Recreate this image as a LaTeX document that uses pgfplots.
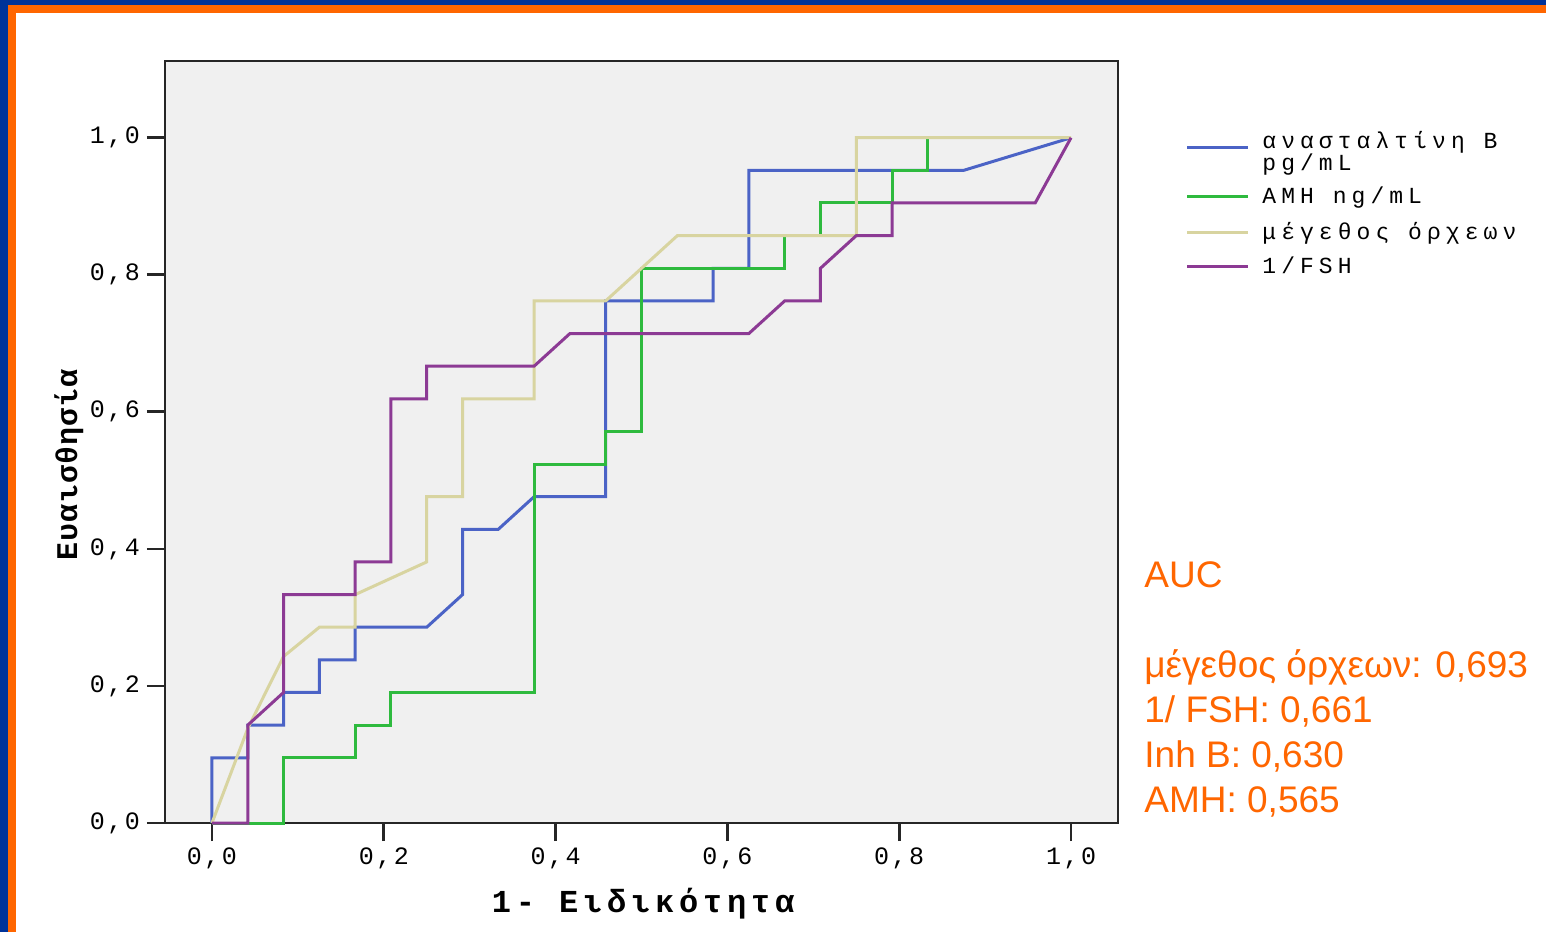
\documentclass[border=0pt]{standalone}
\usepackage{fontspec}
\setmainfont{Liberation Sans}
\newfontfamily\monotick[LetterSpace=10]{Liberation Mono}
\newfontfamily\monolab[LetterSpace=15]{Liberation Mono}
\newfontfamily\monoylab[LetterSpace=4]{Liberation Mono}
\newfontfamily\monoleg[LetterSpace=22]{Liberation Mono}
\usepackage{pgfplots}
\pgfplotsset{compat=1.18}
\definecolor{frameblue}{HTML}{003399}
\definecolor{frameorange}{HTML}{FF6600}
\definecolor{plotbg}{HTML}{F0F0F0}
\definecolor{rocblue}{HTML}{4B63C6}
\definecolor{rocgreen}{HTML}{2EBA3E}
\definecolor{rocbeige}{HTML}{D8D4A0}
\definecolor{rocpurple}{HTML}{8C3A94}

\begin{document}
\begin{tikzpicture}[x=0.5pt,y=0.5pt]
\useasboundingbox (0,0) rectangle (1546,932);
\fill[frameblue] (0,0) rectangle (1546,932);
\fill[frameorange] (8,0) rectangle (1546,927);
\fill[white] (16,0) rectangle (1546,919);

\begin{axis}[
  at={(82.5pt,54.5pt)}, anchor=south west,
  scale only axis, width=476.5pt, height=381pt,
  xmin=-0.0547, xmax=1.0547, ymin=0, ymax=1.112,
  axis background/.style={fill=plotbg},
  axis line style={line width=1.4pt, black!85},
  xtick={0,0.2,0.4,0.6,0.8,1}, ytick={0,0.2,0.4,0.6,0.8,1},
  xtick pos=bottom, ytick pos=left,
  tick align=outside, major tick length=9pt,
  tick style={line width=1.4pt, black!85},
  ticklabel style={font=\fontsize{12.5}{14}\selectfont\monotick},
  /pgf/number format/fixed,
  /pgf/number format/fixed zerofill,
  /pgf/number format/precision=1,
  /pgf/number format/use comma,
  /pgf/number format/assume math mode=true,
  xlabel={1- Ειδικότητα},
  ylabel={Ευαισθησία},
  xlabel style={at={(axis description cs:0.5016,-0.1168)}, anchor=base,
    font=\fontsize{16}{18}\selectfont\monolab\bfseries},
  ylabel style={at={(axis description cs:-0.0923,0.4698)}, anchor=base,
    font=\fontsize{15}{17}\selectfont\monoylab\bfseries},
  clip=false,
  every axis plot/.append style={line width=1.5pt, mark=none},
]
% inhibin B
\addplot[rocblue] coordinates {
  (0,0) (0,0.0952) (0.0417,0.0952) (0.0417,0.1429) (0.0833,0.1429)
  (0.0833,0.1905) (0.125,0.1905) (0.125,0.2381) (0.1667,0.2381)
  (0.1667,0.2857) (0.25,0.2857) (0.2917,0.3333) (0.2917,0.4286)
  (0.3333,0.4286) (0.375,0.4762) (0.4583,0.4762) (0.4583,0.7619)
  (0.5833,0.7619) (0.5833,0.8095) (0.625,0.8095) (0.625,0.9524)
  (0.875,0.9524) (1,1)
};
% AMH
\addplot[rocgreen] coordinates {
  (0,0) (0.0833,0) (0.0833,0.0952) (0.1667,0.0952) (0.1667,0.1429)
  (0.2083,0.1429) (0.2083,0.1905) (0.375,0.1905) (0.375,0.5238)
  (0.4583,0.5238) (0.4583,0.5714) (0.5,0.5714) (0.5,0.8095)
  (0.6667,0.8095) (0.6667,0.8571) (0.7083,0.8571) (0.7083,0.9048)
  (0.7917,0.9048) (0.7917,0.9524) (0.8333,0.9524) (0.8333,1) (1,1)
};
% testis size
\addplot[rocbeige] coordinates {
  (0,0) (0.0417,0.1380) (0.0833,0.2430) (0.125,0.2857) (0.1667,0.2857)
  (0.1667,0.3333) (0.25,0.3810) (0.25,0.4762) (0.2917,0.4762)
  (0.2917,0.6190) (0.375,0.6190) (0.375,0.7619) (0.4583,0.7619)
  (0.5,0.8095) (0.5417,0.8571) (0.75,0.8571) (0.75,1) (1,1)
};
% 1/FSH
\addplot[rocpurple] coordinates {
  (0,0) (0.0417,0) (0.0417,0.1429) (0.0833,0.1905) (0.0833,0.3333)
  (0.1667,0.3333) (0.1667,0.3810) (0.2083,0.3810) (0.2083,0.6190)
  (0.25,0.6190) (0.25,0.6667) (0.375,0.6667) (0.4167,0.7143)
  (0.625,0.7143) (0.6667,0.7619) (0.7083,0.7619) (0.7083,0.8095)
  (0.75,0.8571) (0.7917,0.8571) (0.7917,0.9048) (0.9583,0.9048) (1,1)
};
\end{axis}

% legend
\begin{scope}[line width=1.5pt]
\draw[rocblue]   (1187,784) -- (1248,784);
\draw[rocgreen]  (1187,735) -- (1248,735);
\draw[rocbeige]  (1187,699) -- (1248,699);
\draw[rocpurple] (1187,665) -- (1248,665);
\end{scope}
\begin{scope}[every node/.style={anchor=base west, inner sep=0pt,
    font=\fontsize{11.5}{13}\selectfont\monoleg}]
\node at (1262,783) {ανασταλτίνη B};
\node at (1262,761) {pg/mL};
\node at (1262,728) {AMH ng/mL};
\node at (1262,692) {μέγεθος όρχεων};
\node at (1262,658) {1/FSH};
\end{scope}

% AUC
\begin{scope}[every node/.style={anchor=base west, inner sep=0pt,
    text=frameorange, font=\fontsize{18.5}{22}\selectfont}]
\node at (1144,344) {AUC};
\node at (1144,255) {μέγεθος όρχεων: 0,693};
\node at (1144,210) {1/ FSH: 0,661};
\node at (1144,165) {Inh B: 0,630};
\node at (1144,120) {AMH: 0,565};
\end{scope}
\end{tikzpicture}
\end{document}
